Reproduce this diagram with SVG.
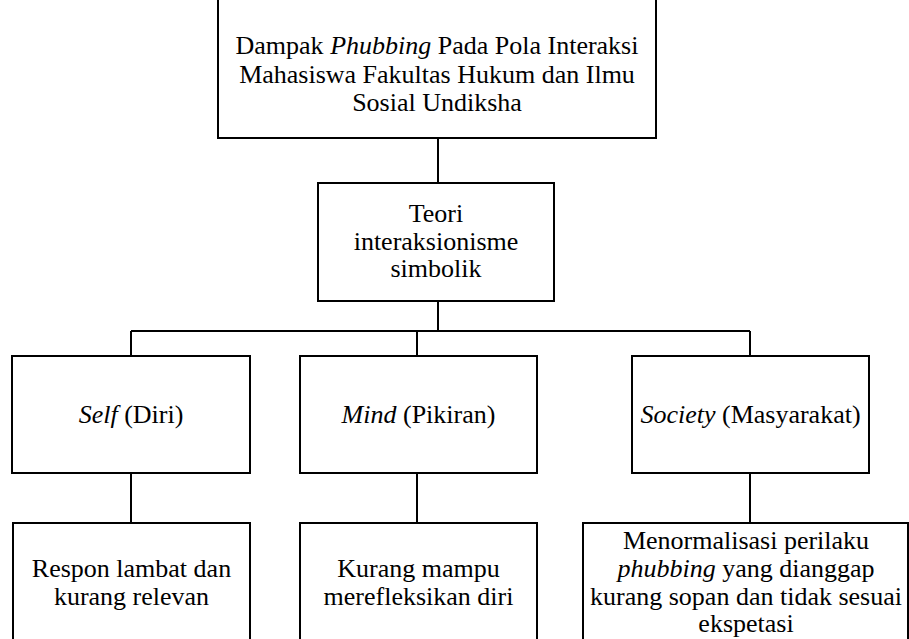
<svg xmlns="http://www.w3.org/2000/svg" width="909" height="639" viewBox="0 0 909 639">
<style>
.box{fill:#fff;stroke:#000;stroke-width:2}
.ln{stroke:#000;stroke-width:2;fill:none}
.i{font-style:italic}
</style>
<rect width="909" height="639" fill="#fff"/>
<g id="connectors">
<line class="ln" x1="438" y1="138" x2="438" y2="183"/>
<line class="ln" x1="438" y1="301" x2="438" y2="331"/>
<line class="ln" x1="131" y1="331" x2="750" y2="331"/>
<line class="ln" x1="131" y1="331" x2="131" y2="356"/>
<line class="ln" x1="417" y1="331" x2="417" y2="356"/>
<line class="ln" x1="750" y1="331" x2="750" y2="356"/>
<line class="ln" x1="131" y1="473" x2="131" y2="523"/>
<line class="ln" x1="417" y1="473" x2="417" y2="523"/>
<line class="ln" x1="750" y1="473" x2="750" y2="523"/>
</g>
<g font-family="'Liberation Serif', Tinos, 'Times New Roman', Times, serif" font-size="26" fill="#000" text-anchor="middle">
<g id="top">
<rect class="box" x="218" y="-10" width="438" height="148"/>
<text x="437" y="54">Dampak <tspan class="i">Phubbing</tspan> Pada Pola Interaksi</text>
<text x="437" y="83">Mahasiswa Fakultas Hukum dan Ilmu</text>
<text x="437" y="111">Sosial Undiksha</text>
</g>
<g id="theory">
<rect class="box" x="318" y="183" width="236" height="118"/>
<text x="436" y="222">Teori</text>
<text x="436" y="250">interaksionisme</text>
<text x="436" y="277">simbolik</text>
</g>
<g id="self">
<rect class="box" x="12" y="356" width="238" height="117"/>
<text x="131" y="423"><tspan class="i">Self</tspan> (Diri)</text>
</g>
<g id="mind">
<rect class="box" x="300" y="356" width="237" height="117"/>
<text x="418.5" y="423"><tspan class="i">Mind</tspan> (Pikiran)</text>
</g>
<g id="society">
<rect class="box" x="632" y="356" width="237" height="117"/>
<text x="750.5" y="423"><tspan class="i">Society</tspan> (Masyarakat)</text>
</g>
<g id="self-effect">
<rect class="box" x="13" y="523" width="237" height="130"/>
<text x="131.5" y="577">Respon lambat dan</text>
<text x="131.5" y="605">kurang relevan</text>
</g>
<g id="mind-effect">
<rect class="box" x="300" y="523" width="237" height="130"/>
<text x="418.5" y="577">Kurang mampu</text>
<text x="418.5" y="605">merefleksikan diri</text>
</g>
<g id="society-effect">
<rect class="box" x="583" y="523" width="325" height="130"/>
<text x="746" y="549">Menormalisasi perilaku</text>
<text x="746" y="577"><tspan class="i">phubbing</tspan> yang dianggap</text>
<text x="746" y="605">kurang sopan dan tidak sesuai</text>
<text x="746" y="632">ekspetasi</text>
</g>
</g>
</svg>
